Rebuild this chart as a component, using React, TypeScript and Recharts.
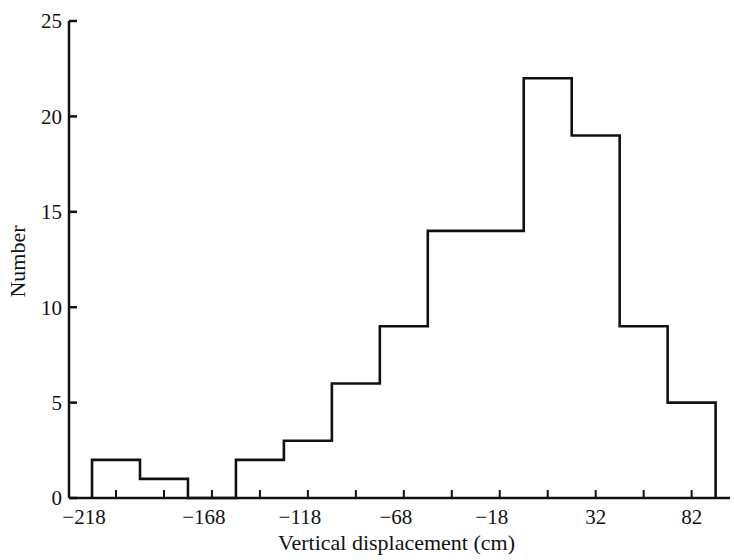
import React from "react";
import { LineChart, Line, XAxis, YAxis, Label } from "recharts";

// Histogram of vertical displacement (cm): bin midpoints and counts
const binMids = [-218, -193, -168, -143, -118, -93, -68, -43, -18, 7, 32, 57, 82];
const counts = [2, 1, 0, 2, 3, 6, 9, 14, 14, 22, 19, 9, 5];
const binWidth = 25;

// x tick labels (the first label sits at the left edge of the first bin)
const xLabelValues = [-230.5, -168, -118, -68, -18, 32, 82];
const xLabelTexts = ["\u2212218", "\u2212168", "\u2212118", "\u221268", "\u221218", "32", "82"];

const yTicks = [0, 5, 10, 15, 20, 25];

const xTitle = "Vertical displacement (cm)";
const yTitle = "Number";

// build step-outline points at bin edges
const firstEdge = binMids[0] - binWidth / 2;
const lastEdge = binMids[binMids.length - 1] + binWidth / 2;
const outline = [
  { x: firstEdge, y: 0 },
  ...binMids.map((m, i) => ({ x: m - binWidth / 2, y: counts[i] })),
  { x: lastEdge, y: 0 },
];

const allXTicks = Array.from(new Set([...xLabelValues, ...binMids])).sort((a, b) => a - b);

const FONT = "'Liberation Serif', 'Times New Roman', serif";
const INK = "#111";

const XTick = (props: any) => {
  const { x, y, payload } = props;
  const v = payload.value;
  const li = xLabelValues.indexOf(v);
  const hasMark = binMids.indexOf(v) >= 0;
  const label = li >= 0 ? xLabelTexts[li] : null;
  const neg = label && label.startsWith("\u2212");
  return (
    <g>
      {hasMark && <line x1={x} x2={x} y1={y} y2={y - 8} stroke={INK} strokeWidth={2} />}
      {label && (
        <text x={x} y={y + 26} dx={neg ? -8 : 0} textAnchor="middle" fontFamily={FONT} fontSize={21} fill={INK}>
          {label}
        </text>
      )}
    </g>
  );
};

const YTick = (props: any) => {
  const { x, y, payload } = props;
  return (
    <g>
      <line x1={x} x2={x + 8} y1={y} y2={y} stroke={INK} strokeWidth={2.5} />
      <text x={x - 7} y={y} dy="0.35em" textAnchor="end" fontFamily={FONT} fontSize={21} fill={INK}>
        {payload.value}
      </text>
    </g>
  );
};

export default function App() {
  return (
    <div style={{ position: "absolute", left: 0, top: 0, background: "#fff" }}>
      <LineChart
        width={734}
        height={560}
        data={outline}
        margin={{ top: 21, right: 4, bottom: 32, left: 0 }}
      >
        <XAxis
          type="number"
          dataKey="x"
          domain={[-242.5, 102]}
          ticks={allXTicks}
          interval={0}
          tickSize={0}
          tickMargin={0}
          tickLine={false}
          tick={<XTick />}
          height={30}
          axisLine={{ stroke: INK, strokeWidth: 2.5 }}
          allowDataOverflow
        >
          <Label
            content={(p: any) => {
              const vb = p.viewBox || {};
              return (
                <text
                  x={vb.x + vb.width / 2 - 3}
                  y={vb.y + 52}
                  textAnchor="middle"
                  fontFamily={FONT}
                  fontSize={22}
                  fill={INK}
                >
                  {xTitle}
                </text>
              );
            }}
          />
        </XAxis>
        <YAxis
          type="number"
          domain={[0, 25]}
          ticks={yTicks}
          interval={0}
          width={69}
          tickSize={0}
          tickMargin={0}
          tickLine={false}
          tick={<YTick />}
          axisLine={{ stroke: INK, strokeWidth: 2.5 }}
        >
          <Label
            content={(p: any) => {
              const vb = p.viewBox || {};
              const cx = 17;
              const cy = vb.y + vb.height / 2 + 2;
              return (
                <text
                  x={cx}
                  y={cy}
                  transform={`rotate(-90 ${cx} ${cy})`}
                  textAnchor="middle"
                  dominantBaseline="central"
                  fontFamily={FONT}
                  fontSize={22}
                  fill={INK}
                >
                  {yTitle}
                </text>
              );
            }}
          />
        </YAxis>
        <Line
          type="stepAfter"
          dataKey="y"
          stroke={INK}
          strokeWidth={2.6}
          dot={false}
          activeDot={false}
          isAnimationActive={false}
        />
      </LineChart>
    </div>
  );
}
